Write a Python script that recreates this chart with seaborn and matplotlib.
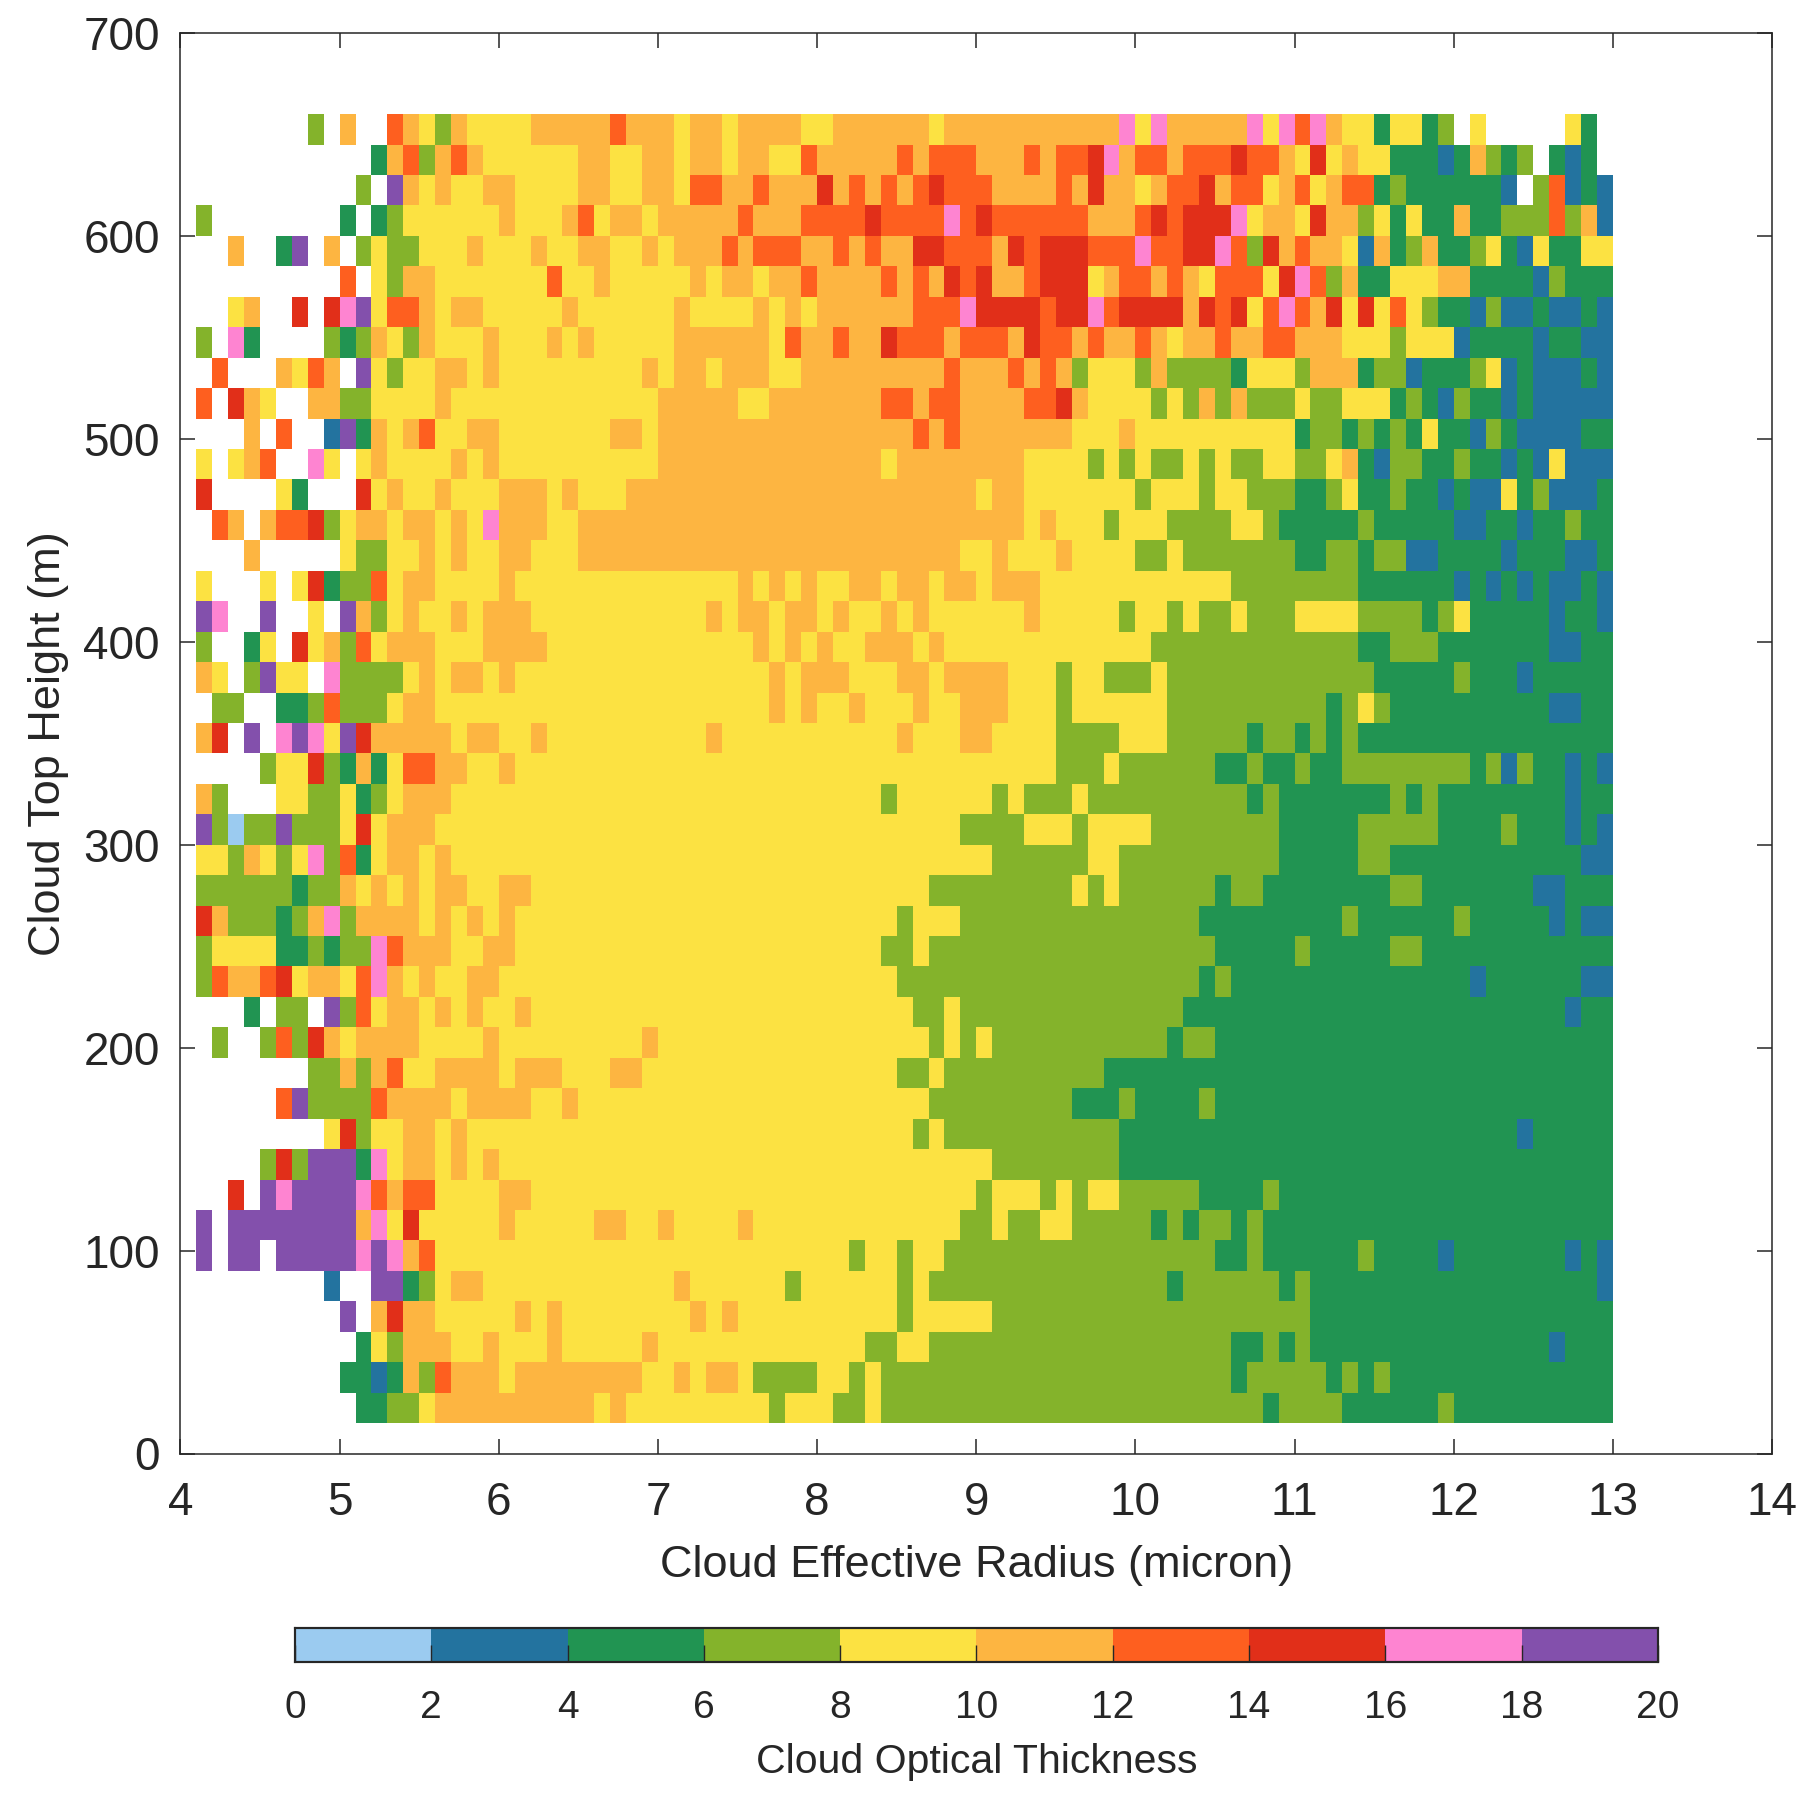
import re

import matplotlib
matplotlib.use('Agg')
import matplotlib.pyplot as plt
import numpy as np
import pandas as pd
import seaborn as sns
from matplotlib.colors import ListedColormap

# one row per cloud top height bin, top row first
# letter = colour class of the cell, number after it = how many cells in a row, . = no data
rows_top_down = [
    ".8 o . r .2 t r y o r y4 r5 t r3 y r2 y r4 y2 r6 y r11 p y p r5 p y p t p r y2 g y2 g o . y .5 y g .",
    ".12 g r t o r t r y6 r2 y2 r2 y r2 y r2 y2 t r5 t r t3 r3 t r t2 d p r t2 r t3 d t2 r y d y r y2 g3 b g r o g o . g b g .",
    ".11 o . v r y r y2 r2 y4 r2 y2 r2 y t2 r2 t r3 d r t r t r t d t3 r4 t r d r2 y r t2 d r t2 y r t y r t2 g o g6 b . o t b g b",
    ". o .8 g . g o y6 r y3 r t y r2 y r5 t r3 t4 d t4 p t d t6 r3 t d t d3 p y r2 y d r2 o y g y g2 r g2 o3 t o r b",
    ".3 r .2 g v . r . o y o2 y3 r y3 r y2 r2 y2 r y r3 t r t3 r2 t r t r2 d2 t3 r d t d3 t3 p t2 d2 p t o d r t r2 y b r g o r g2 o y g b y g2 y2",
    ".10 t . y o r2 y7 t y2 r y5 r y r2 y r2 t r4 t r t r d t d r2 t d3 y r t2 r t r y t3 y d p t o r g2 y3 r2 g4 b o g3",
    ".3 y r .2 d . d p v y t2 r y r2 y5 r y6 r y4 r y r y r6 t3 p d4 t d2 p t d4 r d t d y t p t r d y d y t y o g2 b o b2 g b2 g b",
    ". o . p g .4 o g o r y o r y3 r y3 r y r y5 r6 y t r2 t r2 d t3 r t3 r d t2 r t r2 t r y r2 t r2 t2 r3 y3 o y3 b g4 b g2 b2",
    ".2 t .3 r y t r . v y o y2 r2 y r y9 r y r2 y r3 y2 r9 t r3 t r t r o y3 o r o4 g y3 o r3 g o2 b g3 o y b g b3 g b",
    ". t . d r y .2 r2 o2 y4 r y13 r5 y2 r7 t2 r t2 r4 t2 d r y4 o y o r o r o3 y o2 y3 g o g b o g2 b g b5",
    ".4 r . t .2 b v g r y r t y2 r2 y7 r2 y r16 t r t r7 y3 r y10 g o2 g o g o g y g2 b o g b4 g2",
    ". y . y r t .2 p y . y r y4 r y r y10 r14 y r8 y4 o y o y o2 y o y o2 y2 o2 y r g b o2 g2 o g2 b g b y b3",
    ". d .4 y g .3 d y r y2 r y3 r3 y r y3 r22 y r2 y7 o y3 o y2 o3 g2 o y g2 o g2 b g b2 y g o b3 g",
    ".2 t r . r t2 d o y r2 y r2 y r y p r3 y2 r28 y r y3 o y3 o4 y2 o g5 o g5 b2 g2 b g2 o g2",
    ".4 r .5 y o2 y2 r y r y2 r2 y3 r24 y2 r y3 r y4 o2 y o7 g2 o2 g o2 b2 g4 b g3 b2 g",
    ". y .3 y . y d g o2 t y r2 y4 r y14 r y r y r y2 r2 y r2 y r2 y r3 y12 o8 g6 b g b g b g b2 g b",
    ". v p .2 v .2 y . v r o y r y2 r y r3 y11 r y r2 y r2 y r y2 r y r y6 r y5 o y2 o y o2 y o3 y4 o4 g o y g5 b g2 b",
    ". o .2 g y . d y r o t y r3 y3 r4 y13 r y r y r y2 r3 y r y13 o13 g2 o3 g7 b2 g2",
    ". r y . o v y2 . p o4 y r y r2 y r y16 r y r3 y3 r2 y r4 y3 o y2 o3 y o13 g5 o g3 b g5",
    ".2 o2 .2 g2 o t o3 y r2 y21 r y r y2 r y3 r y2 r3 y3 o y6 o10 g o y o g10 b2 g2",
    ". r d . v . p v p y v d r5 y r2 y2 r y10 r y11 r y3 r2 y4 o4 y3 o5 g o2 g o g o g16",
    ".5 o y2 d o g r g y t2 r2 y2 r y34 o3 y o6 g2 o g2 o g2 o8 g o b o g2 b g b",
    ". r o .3 y2 o2 y g o y r3 y27 o y6 o y o3 y o10 g o g7 o g o g8 b g2",
    ". v o a o2 v o3 y d y r3 y33 o4 y3 o y4 o8 g5 o5 g4 o g3 b g b",
    ". y2 o r y o y p o t g y r2 y r y34 o6 y2 o10 g5 o2 g12 b2",
    ". o6 g o2 r y r y r y r2 y2 r2 y25 o9 y o y o6 g o2 g8 o2 g7 b2 g3",
    ". d r o3 g o r p o r4 y r y r y r y24 o y3 o15 g9 o g6 o g5 b g b2",
    ". o y4 g2 o g o2 p t r3 y2 r2 y23 o2 y o18 g5 o g5 o2 g12",
    ". o t r2 t d y r2 y t p r y r y2 r2 y25 o19 g o g15 b g6 b2",
    ".4 g . o2 . v o t y r2 y r y r y2 r y24 o2 y o14 g24 b g2",
    ".2 o .2 o t o d r y r4 y4 r y9 r y17 o y o y o11 g o2 g25",
    ".8 o2 r o r t y2 r4 y r3 y3 r2 y16 o2 y o10 g32",
    ".6 t v o4 t r4 y r4 y2 r y22 o9 g3 o g4 o g25",
    ".9 y d o y2 r2 y r y28 o y o11 g25 b g5",
    ".5 o d o v3 g p y r2 y r y r y31 o8 g31",
    ".3 d . v p v4 p t r t2 y4 r2 y28 o y3 o y o y2 o5 g4 o g21",
    ". v . v8 r p y d y5 r y5 r2 y2 r y4 r y13 o2 y o2 y2 o5 g o g o2 g o g22",
    ". v . v2 . v5 p v p r t y26 o y2 o y2 o17 g2 o g6 o g4 b g7 b g b",
    ".9 b .2 v2 g o y r2 y12 r y6 o y6 o y o15 g o6 g o g18 b",
    ".10 v . r d r2 y5 r y r y8 r y r y10 o y5 o20 g19",
    ".11 g y o r3 y2 r y3 r y5 r y13 o2 y2 o19 g2 o g o g15 b g3",
    ".10 g2 b g r o t r3 y r8 y2 r y r2 y o4 y2 o y o22 g o5 g o g o g14",
    ".11 g2 o2 y r10 y r y9 o y3 o2 y o24 g o4 g6 o g10",
]

# Cloud Optical Thickness read per class, middle of each 2 wide colour step
class_values = {'a': 1, 'b': 3, 'g': 5, 'o': 7, 'y': 9, 'r': 11, 't': 13, 'd': 15, 'p': 17, 'v': 19, '.': np.nan}

colors = ['#9BCBF0', '#23739F', '#219452', '#84B32B', '#FCE242',
          '#FDB541', '#FE5F1F', '#E12F19', '#FE84D1', '#8350AC']

x_ticks = [4, 5, 6, 7, 8, 9, 10, 11, 12, 13, 14]
y_ticks = [0, 100, 200, 300, 400, 500, 600, 700]
cbar_ticks = [0, 2, 4, 6, 8, 10, 12, 14, 16, 18, 20]


def decode(row):
    cells = []
    for code, count in re.findall(r'([a-z.])(\d*)', row):
        cells += [class_values[code]] * int(count or 1)
    assert len(cells) == 90, (row, len(cells))
    return cells


radius = np.arange(40, 130) / 10
height = np.arange(15, 660, 15)
thickness = pd.DataFrame([decode(r) for r in rows_top_down[::-1]], index=height, columns=radius)

sns.set_theme(style='white')
plt.rcParams['font.family'] = ['Liberation Sans', 'DejaVu Sans']
plt.rcParams['text.color'] = '#262626'
plt.rcParams['axes.labelcolor'] = '#262626'
plt.rcParams['xtick.color'] = '#262626'
plt.rcParams['ytick.color'] = '#262626'


# heatmap positions are cell numbers, so turn data units into them
def x_cell(x):
    return (np.asarray(x, dtype=float) - radius[0]) / 0.1


def y_cell(y):
    return (np.asarray(y, dtype=float) - height[0]) / 15


W, H = 1815, 1804
fig = plt.figure(figsize=(W / 100, H / 100), dpi=100)
ax = fig.add_axes([180.5 / W, 1 - 1453.5 / H, (1772 - 180.5) / W, (1453.5 - 33) / H])
cax = fig.add_axes([295 / W, 1 - 1662 / H, (1658 - 295) / W, (1662 - 1628) / H])

sns.heatmap(thickness, ax=ax, cbar_ax=cax, cmap=ListedColormap(colors), vmin=0, vmax=20,
            xticklabels=False, yticklabels=False, linewidths=0,
            cbar_kws={'orientation': 'horizontal', 'ticks': cbar_ticks})

ax.set_xlim(x_cell(4), x_cell(14))
ax.set_ylim(y_cell(0), y_cell(700))
ax.set_xticks(x_cell(x_ticks))
ax.set_xticklabels(x_ticks)
ax.set_yticks(y_cell(y_ticks))
ax.set_yticklabels(y_ticks, rotation=0)
ax.set_axisbelow(False)
ax.tick_params(direction='in', length=11, width=1.1, top=True, right=True, bottom=True, left=True,
               labelsize=33)
ax.tick_params(axis='x', pad=20)
ax.tick_params(axis='y', pad=15)
for side in ax.spines:
    ax.spines[side].set_visible(True)
    ax.spines[side].set_linewidth(1.1)
    ax.spines[side].set_color('#262626')
ax.set_xlabel('Cloud Effective Radius (micron)', fontsize=32.5, labelpad=14)
ax.set_ylabel('Cloud Top Height (m)', fontsize=32.5, labelpad=10)

cax.set_axisbelow(False)
cax.tick_params(direction='in', length=12, width=1, labelsize=28, pad=20, bottom=True)
for side in cax.spines:
    cax.spines[side].set_visible(True)
    cax.spines[side].set_linewidth(1.5)
    cax.spines[side].set_color('#262626')
cax.set_xlabel('Cloud Optical Thickness', fontsize=29.5, labelpad=12.5)

fig.savefig('out.png', dpi=100)
